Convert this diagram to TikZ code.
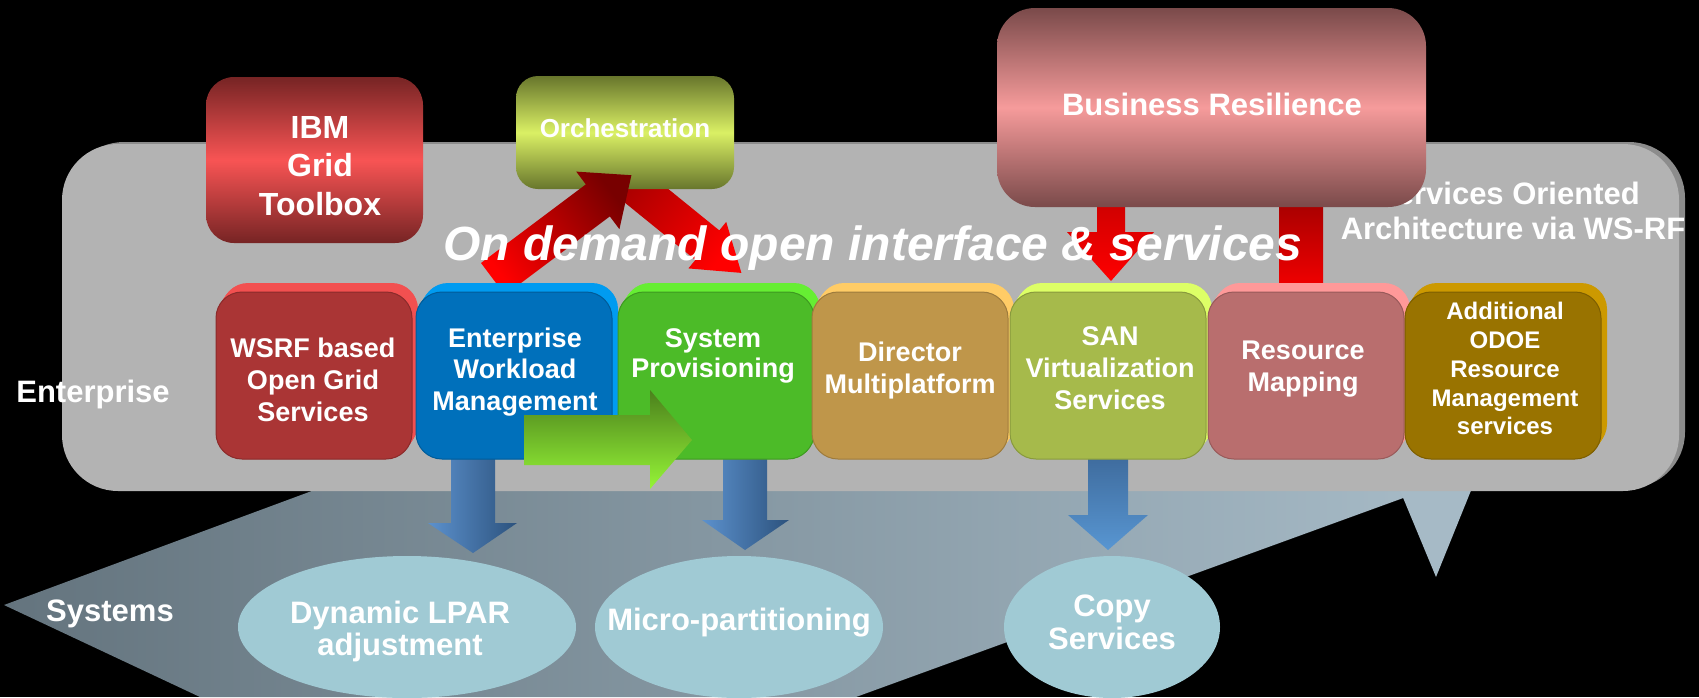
\documentclass[tikz,border=0pt]{standalone}
\usepackage{fontspec}
\setmainfont{Liberation Sans}
\newcommand\myfs[2]{\fontsize{#1}{#2}\selectfont\bfseries}
\definecolor{sysL}{RGB}{100,116,126}
\definecolor{sysR}{RGB}{166,186,198}
\definecolor{entG}{RGB}{179,179,179}
\definecolor{entS}{RGB}{140,140,140}
\definecolor{blueL}{RGB}{92,145,205}
\definecolor{blueR}{RGB}{44,82,125}
\definecolor{blueT}{RGB}{58,100,148}
\definecolor{blueB}{RGB}{88,150,210}
\definecolor{redB}{RGB}{255,0,0}
\definecolor{redD}{RGB}{165,0,0}
\definecolor{redDD}{RGB}{120,0,0}
\definecolor{redT}{RGB}{205,0,0}
\definecolor{barT}{RGB}{165,0,0}
\definecolor{barB}{RGB}{238,0,0}
\definecolor{ibmD}{RGB}{118,36,36}
\definecolor{ibmL}{RGB}{248,84,84}
\definecolor{orD}{RGB}{104,118,44}
\definecolor{orL}{RGB}{218,240,100}
\definecolor{brD}{RGB}{122,74,74}
\definecolor{brL}{RGB}{246,155,155}
\definecolor{ellC}{RGB}{160,202,212}
\definecolor{grT}{RGB}{75,128,28}
\definecolor{grB}{RGB}{150,245,55}
\definecolor{f1}{RGB}{170,53,53}\definecolor{b1}{RGB}{242,80,80}
\definecolor{f2}{RGB}{0,112,187}\definecolor{b2}{RGB}{0,155,240}
\definecolor{f3}{RGB}{76,187,40}\definecolor{b3}{RGB}{102,238,51}
\definecolor{f4}{RGB}{191,150,74}\definecolor{b4}{RGB}{255,204,102}
\definecolor{f5}{RGB}{166,186,75}\definecolor{b5}{RGB}{221,255,102}
\definecolor{f6}{RGB}{185,110,110}\definecolor{b6}{RGB}{255,153,153}
\definecolor{f7}{RGB}{153,115,0}\definecolor{b7}{RGB}{204,153,0}
\newcommand\rbox[3]{%
  \foreach \k in {0,1,...,8} {
    \fill[#3, rounded corners=26, shift={(0.75*\k,-1.125*\k)}] (#1,292) rectangle ++(196,167);
  }
  \fill[#2, draw=#2!82!black, line width=1pt, rounded corners=26] (#1,292) rectangle ++(196,167);
}
\begin{document}
\begin{tikzpicture}[x=1pt,y=-1pt,
  lbl/.style={text=white,inner sep=0pt,align=center}]
\useasboundingbox (0,0) rectangle (1699,697);
\fill[black] (0,0) rectangle (1699,697);
% systems layer
\shade[left color=sysL, right color=sysR] (4,605) -- (328,485) -- (1439,485) -- (856,697) -- (200,697) -- cycle;
\fill[sysR] (1399,488) -- (1472,488) -- (1436,577) -- cycle;
% enterprise layer
\fill[entS, rounded corners=56] (68,142) rectangle (1685,488);
\fill[entG, rounded corners=56] (62,144) rectangle (1679,491);
\node[lbl, font={\myfs{31}{35}}, anchor=base] (ent) at (93,402) {Enterprise};
\node[lbl, font={\myfs{31}{35}}, anchor=base] (sys) at (110,621) {Systems};
\node[lbl, font={\myfs{31}{35}}] (soa) at (1513,211) {Services Oriented\hspace*{10pt}\\Architecture via WS-RF};
% blue arrows
\shade[left color=blueL, right color=blueR] (451,440) -- (495,440) -- (495,523) -- (517,523) -- (473,553) -- (428,523) -- (451,523) -- cycle;
\shade[left color=blueL, right color=blueR] (723,440) -- (767,440) -- (767,520) -- (789,520) -- (745,550) -- (702,520) -- (723,520) -- cycle;
\shade[top color=blueT, bottom color=blueB] (1088,440) -- (1128,440) -- (1128,515) -- (1148,515) -- (1108,550) -- (1068,515) -- (1088,515) -- cycle;
% red arrows behind top boxes
\shade[top color=redD, bottom color=redB, shading angle=51] (630.8,158.6) -- (719.3,230.4) -- (726.2,221.9) -- (741.4,272.9) -- (688.4,268.4) -- (695.4,259.9) -- (606.9,188.1) -- cycle;
\shade[top color=redT, bottom color=redB] (1097,200) -- (1125,200) -- (1125,232) -- (1154,232) -- (1111,281) -- (1067,232) -- (1097,232) -- cycle;
\shade[top color=barT, bottom color=barB] (1279,200) rectangle (1323,283);
% top boxes
\shade[top color=ibmD, bottom color=ibmD, middle color=ibmL, rounded corners=28] (206,77) rectangle (423,243);
\node[lbl, font={\myfs{32}{38.5}}] (ibm) at (320,166) {IBM\\Grid\\Toolbox};
\shade[top color=orD, bottom color=orD, middle color=orL, rounded corners=22] (516,76) rectangle (734,189);
\node[lbl, font={\myfs{26}{30}}] (orch) at (625,128) {Orchestration};
\shade[top color=brD, bottom color=brD, middle color=brL, rounded corners=38] (997,8) rectangle (1426,207);
\node[lbl, font={\myfs{31}{35}}] (br) at (1212,104) {Business Resilience};
% red arrow up to orchestration
\shade[top color=redDD, bottom color=redB, shading angle=-53.13] (481,263) -- (585.8,184.4) -- (576.2,171.6) -- (631.4,175.2) -- (619.4,229.2) -- (609.8,216.4) -- (505,295) -- cycle;
% row of boxes
\rbox{216}{f1}{b1}
\rbox{416}{f2}{b2}
\rbox{618}{f3}{b3}
\rbox{812}{f4}{b4}
\rbox{1010}{f5}{b5}
\rbox{1208}{f6}{b6}
\rbox{1405}{f7}{b7}
\node[lbl, font={\myfs{27}{32}}] (wsrf) at (313,380) {WSRF based\\Open Grid\\Services};
\node[lbl, font={\myfs{27}{31.5}}] (ewm) at (515,371.6) {Enterprise\\Workload\\Management};
\node[lbl, font={\myfs{27}{30.5}}] (sp) at (713,356) {System\\Provisioning};
\node[lbl, font={\myfs{27}{32}}] (dir) at (910,371) {Director\\Multiplatform};
\node[lbl, font={\myfs{27}{32}}] (san) at (1110,368) {SAN\\Virtualization\\Services};
\node[lbl, font={\myfs{27}{32}}] (rm) at (1303,369) {Resource\\Mapping};
\node[lbl, font={\myfs{24}{28.75}}] (add) at (1505,368.8) {Additional\\ODOE\\Resource\\Management\\services};
% green arrow
\shade[top color=grT, bottom color=grB] (524,415) -- (650,415) -- (650,390) -- (692,440) -- (650,489) -- (650,465) -- (524,465) -- cycle;
% headline
\node[text=white, inner sep=0pt, anchor=base west, font={\fontsize{48}{52}\selectfont\bfseries\itshape}] (odt) at (443,260) {On demand open interface \& services};
% systems ellipses
\fill[ellC] (407,627) ellipse [x radius=169pt, y radius=71pt];
\fill[ellC] (739,627) ellipse [x radius=144pt, y radius=71pt];
\fill[ellC] (1112,627) ellipse [x radius=108pt, y radius=71pt];
\node[lbl, font={\myfs{31}{32}}] (dyn) at (400,631) {Dynamic LPAR\\adjustment};
\node[lbl, font={\myfs{31}{35}}, anchor=base] (micro) at (739,630) {Micro-partitioning};
\node[lbl, font={\myfs{31}{33}}] (copy) at (1112,622.4) {Copy\\Services};
\end{tikzpicture}
\end{document}
